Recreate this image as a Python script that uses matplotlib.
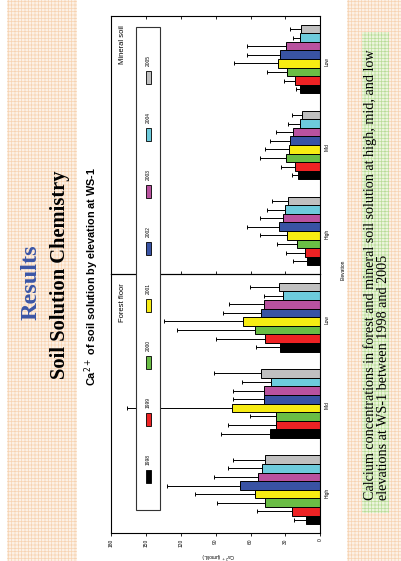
import numpy as np
import matplotlib.pyplot as plt
from matplotlib.patches import Rectangle

plt.rcParams['font.family'] = ['Liberation Sans', 'DejaVu Sans']
plt.rcParams['hatch.linewidth'] = 0.5

# Data: Ca2+ (umol/L), rows = years, columns = High, Mid, Low
years = ['1998', '1999', '2000', '2001', '2002', '2003', '2004', '2005']
elevations = ['High', 'Mid', 'Low']
year_colors = ['#000000', '#ee2224', '#6abd45', '#f7ec13',
               '#3953a4', '#b9529f', '#6dcbdc', '#c0c0c0']

forest_mean = np.array([
    [12.3, 43.0, 34.7],
    [24.6, 38.4, 47.3],
    [47.9, 38.4, 55.9],
    [56.4, 75.6, 66.2],
    [68.8, 48.1, 50.7],
    [53.3, 48.1, 48.4],
    [50.4, 42.1, 32.4],
    [47.6, 50.7, 35.5],
])
forest_sd = np.array([
    [10.6, 42.4, 20.9],
    [29.8, 40.7, 42.4],
    [40.6, 22.1, 67.6],
    [51.6, 90.6, 68.2],
    [62.7, 26.7, 32.7],
    [37.8, 27.3, 29.8],
    [28.7, 25.2, 16.0],
    [27.5, 40.4, 25.0],
])
mineral_mean = np.array([
    [11.5, 19.2, 17.8],
    [13.2, 21.5, 21.5],
    [20.3, 29.2, 28.4],
    [28.7, 26.9, 36.7],
    [35.5, 25.8, 34.4],
    [31.8, 23.8, 29.2],
    [30.7, 17.8, 17.2],
    [27.8, 15.5, 16.3],
])
mineral_sd = np.array([
    [12.3, 4.9, 2.8],
    [16.6, 12.0, 9.7],
    [16.7, 22.4, 17.2],
    [23.4, 21.0, 37.5],
    [27.3, 17.2, 28.4],
    [19.8, 14.0, 33.6],
    [15.4, 9.7, 6.6],
    [14.0, 8.9, 9.8],
])
value_ticks = [0, 30, 60, 90, 120, 150, 180]

# Figure (slide is rotated 90 degrees, so everything is drawn sideways)
W, H = 401, 561
fig = plt.figure(figsize=(W / 100, H / 100), dpi=100)


def rect(x0, y0, x1, y1):
    # pixel box, origin top-left -> figure fraction
    return [x0 / W, 1 - y1 / H, (x1 - x0) / W, (y1 - y0) / H]


def overlay(z):
    a = fig.add_axes([0, 0, 1, 1], zorder=z)
    a.set_xlim(0, W)
    a.set_ylim(H, 0)
    a.axis('off')
    return a


# background bands
bg = overlay(0)
bg.add_patch(Rectangle((7, 0), 70, H, facecolor='#fdf1e6', edgecolor='#f7d3b2',
                       hatch='+++++', lw=0))
bg.add_patch(Rectangle((347, 0), 54, H, facecolor='#fdf1e6', edgecolor='#f7d3b2',
                       hatch='+++++', lw=0))
bg.add_patch(Rectangle((362, 32), 27, 481, facecolor='#ecf5de', edgecolor='#b9dc96',
                       hatch='+++++', lw=0))


def draw_panel(box, means, sds, bottom):
    ax = fig.add_axes(box, zorder=1)
    ax.set_facecolor('none')
    idx = np.arange(len(elevations))
    w = 0.1
    for i in range(len(years)):
        ax.barh(idx + (i - 3.5) * w, means[i], height=w, color=year_colors[i],
                edgecolor='black', linewidth=0.7,
                xerr=[np.zeros(len(idx)), sds[i]],
                error_kw=dict(ecolor='black', elinewidth=0.7, capsize=1.5, capthick=0.7))
    ax.set_xlim(180, 0)
    ax.set_ylim(-0.5, 2.5)
    ax.set_xticks(value_ticks)
    ax.yaxis.tick_right()
    ax.set_yticks(idx, elevations, rotation=90, fontsize=3.5)
    ax.tick_params(axis='y', length=0, pad=3)
    if bottom:
        ax.tick_params(axis='x', direction='out', length=2, width=0.6,
                       labelsize=3.5, labelrotation=90, pad=2)
    else:
        ax.tick_params(axis='x', direction='in', length=2, width=0.6,
                       top=True, bottom=True, labelbottom=False)
    for s in ax.spines.values():
        s.set_linewidth(0.8)
    return ax


draw_panel(rect(111, 16, 320.3, 274), mineral_mean, mineral_sd, bottom=False)
draw_panel(rect(111, 274, 320.3, 533), forest_mean, forest_sd, bottom=True)

fg = overlay(3)

# legend box spanning both panels
fg.add_patch(Rectangle((136, 27), 24, 483, facecolor='white', edgecolor='#333333', lw=0.8))
for i, year in enumerate(years):
    yc = 476 - i * 57
    fg.add_patch(Rectangle((146, yc - 6.5), 5, 13, facecolor=year_colors[i],
                           edgecolor='black', lw=0.6))
    fg.text(148.5, yc - 11, year, rotation=90, ha='center', va='bottom', fontsize=3.5)

fg.text(123, 283, 'Forest floor', rotation=90, ha='center', va='top', fontsize=5.5)
fg.text(123, 25, 'Mineral soil', rotation=90, ha='center', va='top', fontsize=5.5)

fg.text(218, 555, 'Ca$^{2+}$ (µmol/L)', rotation=180, ha='center', va='center', fontsize=3.5)
fg.text(343, 270, 'Elevation', rotation=90, ha='center', va='center', fontsize=3.5)

fg.text(92, 276, 'Ca$^{2+}$ of soil solution by elevation at WS-1', rotation=90,
        ha='center', va='center', fontsize=7.8, fontweight='bold')
fg.text(31, 282, 'Results', rotation=90, ha='center', va='center', fontsize=17.5,
        fontweight='bold', color='#3a55a6', family='Liberation Serif')
fg.text(60, 275, 'Soil Solution Chemistry', rotation=90, ha='center', va='center',
        fontsize=14.8, fontweight='bold', family='Liberation Serif')
fg.text(376.5, 500, 'Calcium concentrations in forest and mineral soil solution at high, mid, and low\n'
        'elevations at WS-1 between 1998 and 2005', rotation=90, ha='center', va='bottom',
        multialignment='left', fontsize=10.2, linespacing=1.0, family='Liberation Serif')

fig.savefig('out.png', dpi=100)
